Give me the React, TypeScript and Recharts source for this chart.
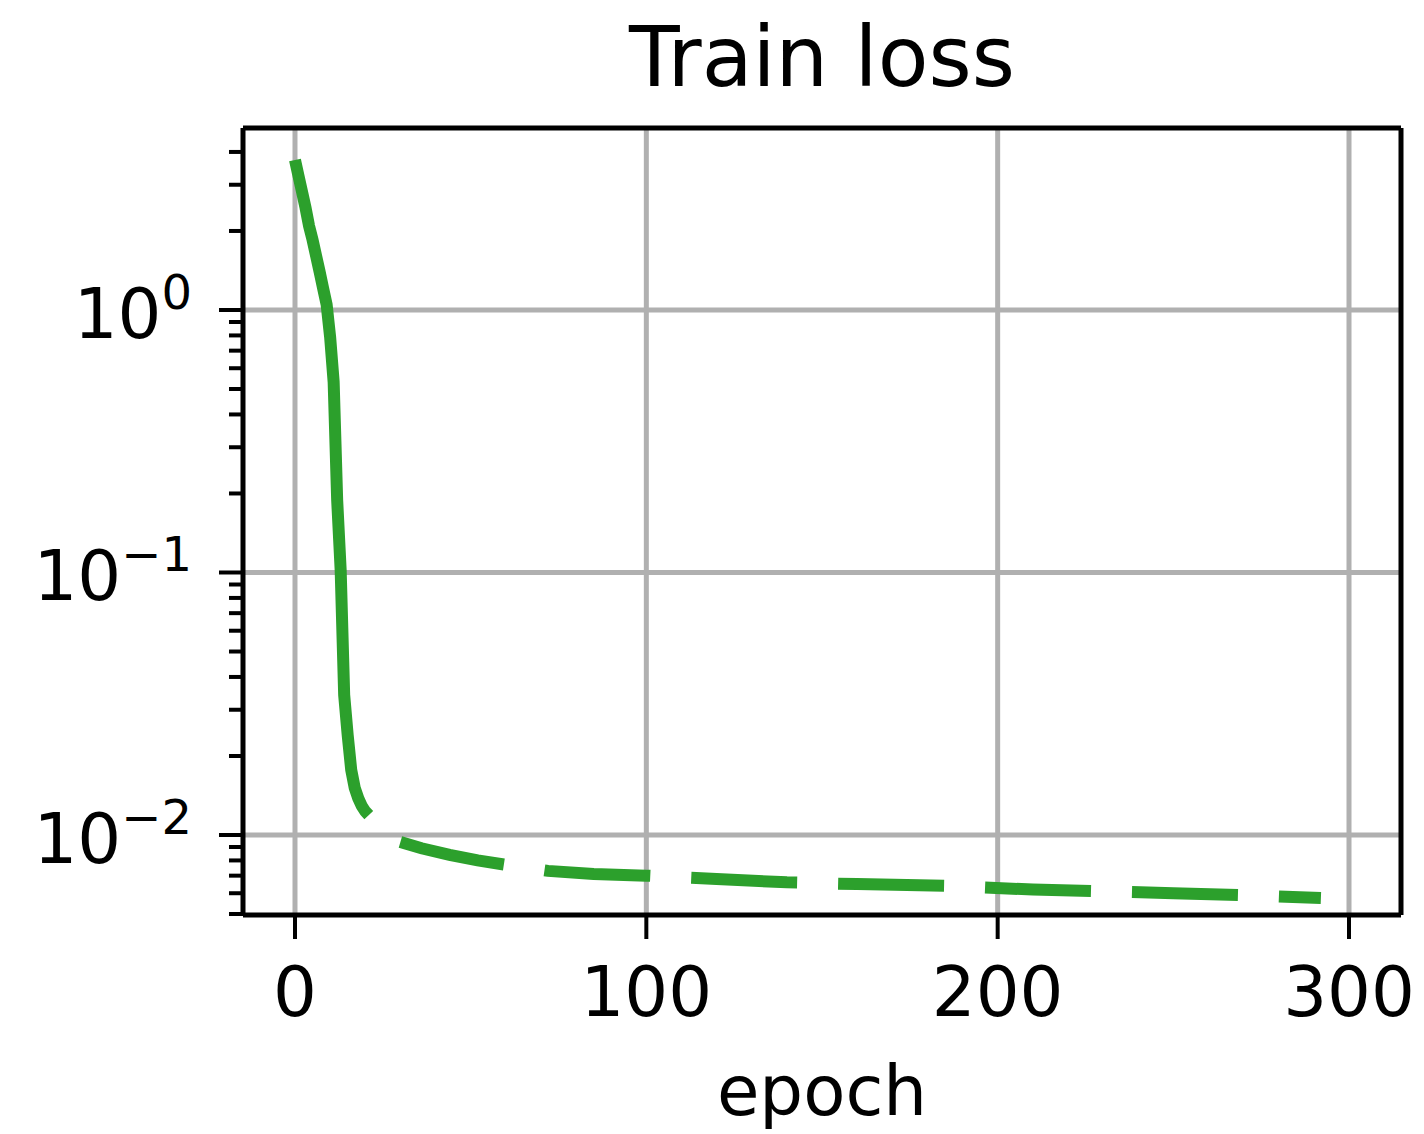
import React from 'react';
import { LineChart, Line, XAxis, YAxis, CartesianGrid, Label } from 'recharts';

// warm-up phase (solid)
const WARMUP_EPOCHS = [0, 1, 2, 3, 4, 5, 6, 7, 8, 9, 10, 11, 12, 13, 14, 15, 16, 17, 18, 19, 20, 21];
const WARMUP_LOSS = [
  3.73, 3.24, 2.82, 2.45, 2.09, 1.85, 1.61, 1.4, 1.21, 1.05, 0.789, 0.532, 0.189, 0.102, 0.0341, 0.024,
  0.0177, 0.0151, 0.0138, 0.0129, 0.0123, 0.0119,
];

// fine-tune phase (dashed)
const FINE_EPOCHS = [30, 36, 44, 52, 60, 72, 85, 100, 120, 140, 160, 185, 210, 230, 250, 270, 292];
const FINE_LOSS = [
  0.0094, 0.0089, 0.0084, 0.008, 0.0077, 0.0073, 0.0071, 0.007, 0.0068, 0.0066, 0.0065, 0.0064, 0.0062,
  0.0061, 0.006, 0.0059, 0.00575,
];

const X_TICKS = [0, 100, 200, 300];
const Y_MAJOR = [0.01, 0.1, 1];
const Y_EXPONENTS = ['−2', '−1', '0'];
const Y_MINOR = [
  0.005, 0.006, 0.007, 0.008, 0.009, 0.02, 0.03, 0.04, 0.05, 0.06, 0.07, 0.08, 0.09, 0.2, 0.3, 0.4, 0.5,
  0.6, 0.7, 0.8, 0.9, 2, 3, 4,
];

const warmupData = WARMUP_EPOCHS.map((epoch, i) => ({ epoch, loss: WARMUP_LOSS[i] }));
const fineData = FINE_EPOCHS.map((epoch, i) => ({ epoch, loss: FINE_LOSS[i] }));

const GREEN = '#2ca02c';
const FONT = '"DejaVu Sans", sans-serif';

const XTick = ({ x, y, payload }: any) => (
  <text x={x} y={y} dy={77} textAnchor="middle" fontSize={69} fontFamily={FONT} fill="#000">
    {payload.value}
  </text>
);

const YTick = ({ x, y, payload }: any) => {
  const idx = Y_MAJOR.findIndex((v) => Math.abs(v - payload.value) < 1e-9);
  const major = idx >= 0;
  return (
    <g>
      <line x1={x} x2={x - (major ? 24 : 14)} y1={y} y2={y} stroke="#000" strokeWidth={4} />
      {major && (
        <text x={x - 51} y={y} dy={28} textAnchor="end" fontSize={69} fontFamily={FONT} fill="#000">
          <tspan>10</tspan>
          <tspan dy={-29} fontSize={48}>
            {Y_EXPONENTS[idx]}
          </tspan>
        </text>
      )}
    </g>
  );
};

const TitleLabel = ({ viewBox }: any) => (
  <text
    x={viewBox.x + viewBox.width / 2}
    y={viewBox.y + 86}
    textAnchor="middle"
    fontSize={83}
    fontFamily={FONT}
    fill="#000"
  >
    Train loss
  </text>
);

const XLabel = ({ viewBox }: any) => (
  <text
    x={viewBox.x + viewBox.width / 2}
    y={viewBox.y + 200}
    textAnchor="middle"
    fontSize={69}
    fontFamily={FONT}
    fill="#000"
  >
    epoch
  </text>
);

export default function App() {
  return (
    <div style={{ position: 'absolute', left: 0, top: 0, background: '#fff' }}>
      <LineChart width={1424} height={1134} margin={{ top: 0, right: 0, bottom: 0, left: 0 }}>
        <CartesianGrid
          xAxisId="main"
          yAxisId="main"
          stroke="#b0b0b0"
          strokeWidth={5}
          verticalValues={X_TICKS}
          horizontalValues={Y_MAJOR}
        />
        <XAxis
          xAxisId="main"
          dataKey="epoch"
          type="number"
          domain={[-14.8, 314.8]}
          allowDataOverflow
          ticks={X_TICKS}
          interval={0}
          height={219}
          tickSize={24}
          tickMargin={0}
          tickLine={{ stroke: '#000', strokeWidth: 4 }}
          axisLine={{ stroke: '#000', strokeWidth: 5 }}
          tick={<XTick />}
        >
          <Label content={<XLabel />} />
        </XAxis>
        <XAxis
          xAxisId="top"
          orientation="top"
          type="number"
          domain={[-14.8, 314.8]}
          allowDataOverflow
          height={128}
          tick={false}
          tickLine={false}
          axisLine={{ stroke: '#000', strokeWidth: 5 }}
        >
          <Label content={<TitleLabel />} />
        </XAxis>
        <YAxis
          yAxisId="main"
          type="number"
          scale="log"
          domain={[0.004957, 4.935]}
          allowDataOverflow
          ticks={[...Y_MAJOR, ...Y_MINOR]}
          interval={0}
          width={243}
          tickSize={0}
          tickMargin={0}
          tickLine={false}
          axisLine={{ stroke: '#000', strokeWidth: 5 }}
          tick={<YTick />}
        />
        <YAxis
          yAxisId="right"
          orientation="right"
          type="number"
          domain={[0, 1]}
          width={23}
          tick={false}
          tickLine={false}
          axisLine={{ stroke: '#000', strokeWidth: 5 }}
        />
        <Line
          xAxisId="main"
          yAxisId="main"
          data={warmupData}
          dataKey="loss"
          type="linear"
          stroke={GREEN}
          strokeWidth={12}
          dot={false}
          isAnimationActive={false}
        />
        <Line
          xAxisId="main"
          yAxisId="main"
          data={fineData}
          dataKey="loss"
          type="linear"
          stroke={GREEN}
          strokeWidth={12}
          strokeDasharray="106 41"
          dot={false}
          isAnimationActive={false}
        />
      </LineChart>
    </div>
  );
}
